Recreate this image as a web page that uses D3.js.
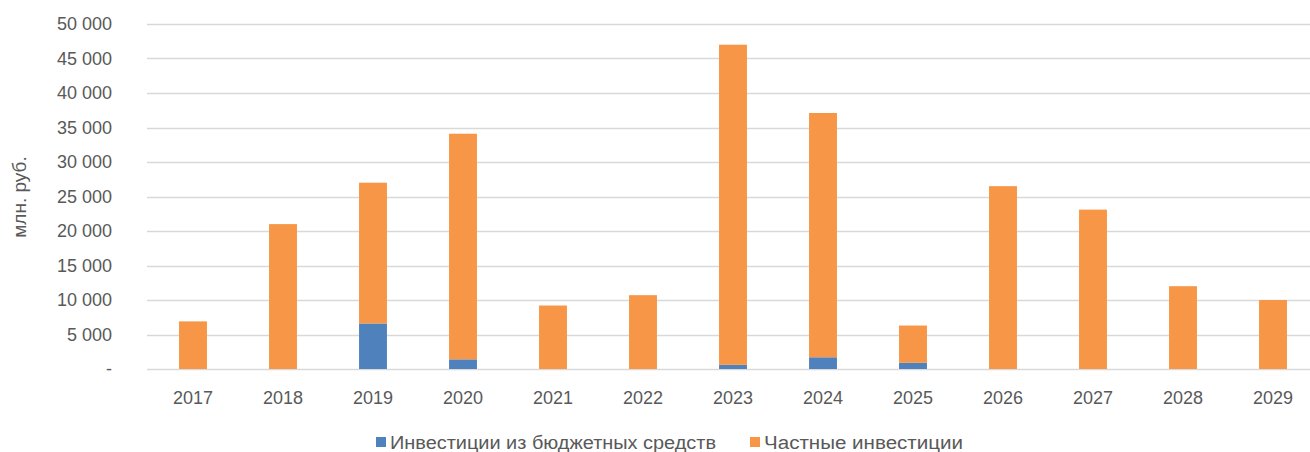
<!DOCTYPE html>
<html>
<head>
<meta charset="utf-8">
<script src="https://cdn.jsdelivr.net/npm/d3@7"></script>
<style>
  body { margin: 0; background: #fff; }
  text { font-family: "Liberation Sans", Arial, sans-serif; fill: #595959; }
</style>
</head>
<body>
<svg id="chart" width="1310" height="452"></svg>
<script>
// years and the two stacked series (млн. руб.)
const years = ["2017", "2018", "2019", "2020", "2021", "2022", "2023", "2024", "2025", "2026", "2027", "2028", "2029"];
const budget  = [0, 0, 6600, 1400, 0, 0, 600, 1700, 900, 0, 0, 0, 0];
const privateInv = [6900, 21000, 20400, 32700, 9200, 10700, 46400, 35400, 5400, 26500, 23100, 12000, 10000];
const seriesNames = ["Инвестиции из бюджетных средств", "Частные инвестиции"];
const colors = ["#4F81BD", "#F79646"];
const yTicks = [0, 5000, 10000, 15000, 20000, 25000, 30000, 35000, 40000, 45000, 50000];

const svg = d3.select("#chart");

const x = d3.scaleBand()
  .domain(years)
  .range([148, 1318])
  .paddingInner(0.69)
  .paddingOuter(0.345);

const y = d3.scaleLinear()
  .domain([0, 50000])
  .range([369, 24]);

// number format with a space as thousands separator, "-" for zero
const fmt = v => v === 0 ? "-" : d3.format(",")(v).replace(/,/g, " ");

// gridlines
svg.append("g")
  .selectAll("line")
  .data(yTicks)
  .join("line")
    .attr("x1", 147)
    .attr("x2", 1310)
    .attr("y1", d => Math.round(y(d)) + 0.5)
    .attr("y2", d => Math.round(y(d)) + 0.5)
    .attr("stroke", "#D9D9D9")
    .attr("stroke-width", 1.3);

// y tick labels
svg.append("g")
  .selectAll("text")
  .data(yTicks)
  .join("text")
    .attr("x", 112)
    .attr("y", d => y(d) + 6)
    .attr("text-anchor", "end")
    .style("font-size", "18px")
    .text(fmt);

// y axis title
svg.append("text")
  .attr("transform", "translate(26,197) rotate(-90)")
  .attr("text-anchor", "middle")
  .style("font-size", "19px")
  .text("млн. руб.");

// stack the two series
const rows = years.map((yr, i) => ({ year: yr, budget: budget[i], priv: privateInv[i] }));
const stacked = d3.stack().keys(["budget", "priv"])(rows);

svg.append("g")
  .selectAll("g")
  .data(stacked)
  .join("g")
    .attr("fill", (d, i) => colors[i])
  .selectAll("rect")
  .data(d => d)
  .join("rect")
    .attr("x", d => x(d.data.year))
    .attr("width", x.bandwidth())
    .attr("y", d => y(d[1]))
    .attr("height", d => y(d[0]) - y(d[1]));

// x labels
svg.append("g")
  .selectAll("text")
  .data(years)
  .join("text")
    .attr("x", d => x(d) + x.bandwidth() / 2)
    .attr("y", 404)
    .attr("text-anchor", "middle")
    .style("font-size", "18px")
    .text(d => d);

// legend
const legendX = [376, 750];
const legend = svg.append("g")
  .selectAll("g")
  .data(seriesNames)
  .join("g")
    .attr("transform", (d, i) => `translate(${legendX[i]},0)`);
legend.append("rect")
  .attr("x", 0).attr("y", 437)
  .attr("width", 10).attr("height", 10)
  .attr("fill", (d, i) => colors[i]);
legend.append("text")
  .attr("x", 14)
  .attr("y", 449)
  .style("font-size", "18px")
  .attr("textLength", (d, i) => [326, 199][i])
  .attr("lengthAdjust", "spacingAndGlyphs")
  .text(d => d);
</script>
</body>
</html>
